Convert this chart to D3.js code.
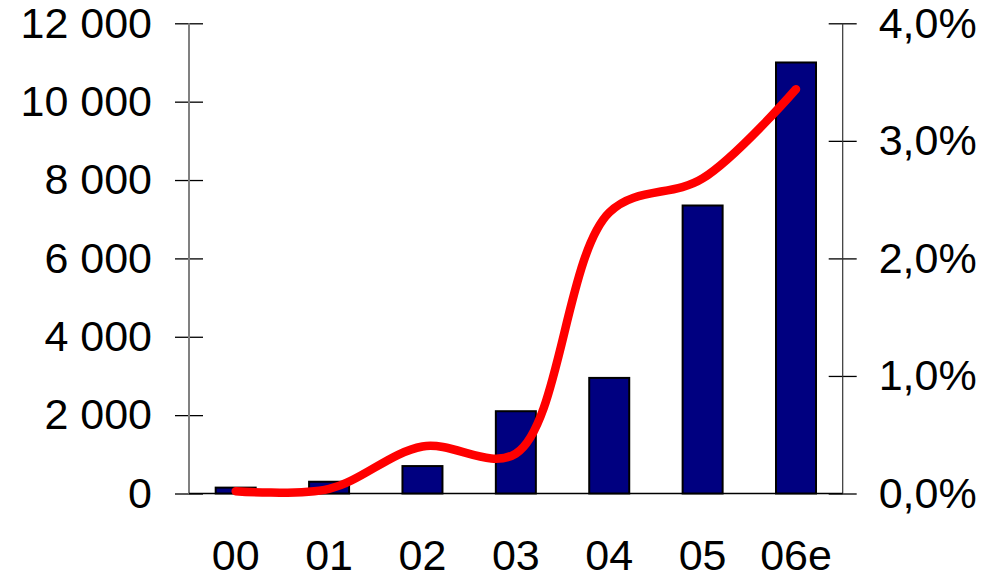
<!DOCTYPE html>
<html>
<head>
<meta charset="utf-8">
<script src="https://cdn.jsdelivr.net/npm/d3@7"></script>
<style>
  html, body { margin: 0; padding: 0; background: #ffffff; }
  svg { display: block; }
  text { font-family: "Liberation Sans", Arial, sans-serif; fill: #000; }
</style>
</head>
<body>
<svg id="chart" width="1001" height="577"></svg>
<script>
// Years (06e = estimate)
const categories = ["00", "01", "02", "03", "04", "05", "06e"];
// Bar series, left axis
const barValues = [150, 300, 700, 2100, 2950, 7350, 11000];
// Line series, right axis (percent)
const lineValues = [0.02, 0.04, 0.40, 0.34, 2.39, 2.68, 3.44];
// Axis ticks
const leftTicks = [0, 2000, 4000, 6000, 8000, 10000, 12000];
const rightTicks = [0, 1, 2, 3, 4];

const svg = d3.select("#chart");
const plotLeft = 189, plotRight = 842.7, plotTop = 23.3, plotBottom = 493.5;
const tick = 14;

const x = d3.scaleBand()
  .domain(categories)
  .range([plotLeft, plotRight])
  .paddingInner(0.571)
  .paddingOuter(0.2855);

const yL = d3.scaleLinear().domain([0, 12000]).range([plotBottom, plotTop]);
const yR = d3.scaleLinear().domain([0, 4]).range([plotBottom, plotTop]);

const fmtThousands = v => d3.format(",")(v).replace(/,/g, " ");
const fmtPct = v => d3.format(".1f")(v).replace(".", ",") + "%";

// Left axis
const gL = svg.append("g").attr("transform", `translate(${plotLeft},0)`)
  .call(d3.axisLeft(yL).tickValues(leftTicks).tickFormat(fmtThousands).tickSize(tick).tickPadding(23));
gL.select(".domain").remove();
gL.selectAll(".tick line").attr("x1", tick).attr("stroke", "#000").attr("stroke-width", 1.3);
gL.selectAll(".tick text").attr("font-size", 43).attr("font-family", "Liberation Sans, Arial, sans-serif").attr("fill", "#000");
svg.append("line").attr("x1", plotLeft).attr("x2", plotLeft).attr("y1", yL(12000)).attr("y2", yL(0))
  .attr("stroke", "#808080").attr("stroke-width", 2);

// Right axis
const gR = svg.append("g").attr("transform", `translate(${plotRight},0)`)
  .call(d3.axisRight(yR).tickValues(rightTicks).tickFormat(fmtPct).tickSize(tick).tickPadding(22));
gR.select(".domain").remove();
gR.selectAll(".tick line").attr("x1", -tick).attr("stroke", "#000").attr("stroke-width", 1.3);
gR.selectAll(".tick text").attr("font-size", 43).attr("font-family", "Liberation Sans, Arial, sans-serif").attr("fill", "#000");
svg.append("line").attr("x1", plotRight).attr("x2", plotRight).attr("y1", yR(4)).attr("y2", yR(0))
  .attr("stroke", "#333").attr("stroke-width", 1.2);

// Baseline
svg.append("line").attr("x1", plotLeft).attr("x2", plotRight).attr("y1", yL(0)).attr("y2", yL(0))
  .attr("stroke", "#000").attr("stroke-width", 1.5);

// Category labels
const gX = svg.append("g").attr("transform", `translate(0,${plotBottom})`)
  .call(d3.axisBottom(x).tickSize(0).tickPadding(46));
gX.select(".domain").remove();
gX.selectAll(".tick text").attr("font-size", 43).attr("font-family", "Liberation Sans, Arial, sans-serif").attr("fill", "#000");

// Bars
const barW = 40;
svg.append("g").selectAll("rect").data(categories).join("rect")
  .attr("x", d => x(d) + x.bandwidth() / 2 - barW / 2)
  .attr("width", barW)
  .attr("y", (d, i) => yL(barValues[i]))
  .attr("height", (d, i) => yL(0) - yL(barValues[i]))
  .attr("fill", "#000080")
  .attr("stroke", "#000")
  .attr("stroke-width", 2);

// Smoothed share line
const line = d3.line()
  .x((d, i) => x(categories[i]) + x.bandwidth() / 2)
  .y(d => yR(d))
  .curve(d3.curveCatmullRom.alpha(0.5));
svg.append("path").datum(lineValues)
  .attr("d", line)
  .attr("fill", "none")
  .attr("stroke", "#ff0000")
  .attr("stroke-width", 8.5)
  .attr("stroke-linecap", "round")
  .attr("stroke-linejoin", "round");
</script>
</body>
</html>
